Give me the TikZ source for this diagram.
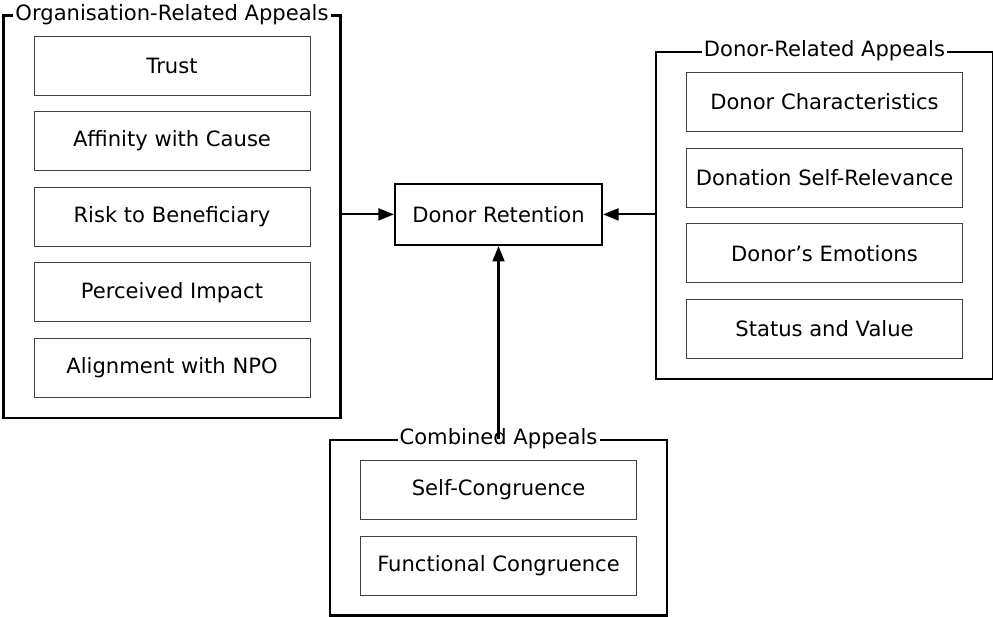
\documentclass[tikz,border=0pt]{standalone}
\usepackage{fontspec}
\setmainfont{DejaVu Sans}
\usetikzlibrary{arrows.meta,positioning,fit}
\tikzset{
  IB/.style={rectangle,draw=black!75,line width=0.7pt,fill=white,
             minimum width=6.9cm,minimum height=1.475cm,
             text centered,font=\fontsize{15}{18}\selectfont},
  MB/.style={IB,draw=black,line width=1.6pt,
             minimum width=5.175cm,minimum height=1.525cm},
  GF/.style={rectangle,draw=black,line width=1.6pt,
             inner xsep=0.75cm,inner ysep=0.5cm},
  GT/.style={fill=white,inner xsep=1.5pt,inner ysep=0pt,
             font=\fontsize{15}{18}\selectfont},
  arr/.style={-{Triangle[length=11pt,width=8.5pt]},line width=1.5pt}
}
\begin{document}
\begin{tikzpicture}[node distance=0.39cm]
  \useasboundingbox (0,0) rectangle (24.825,-15.4);

  % organisation-related appeals
  \node[IB] (trust) at (4.3,-1.6375) {Trust};
  \node[IB,below=of trust] (affinity) {Affinity with Cause};
  \node[IB,below=of affinity] (risk) {Risk to Beneficiary};
  \node[IB,below=of risk] (impact) {Perceived Impact};
  \node[IB,below=of impact] (alignment) {Alignment with NPO};
  \node[GF,fit=(trust)(alignment)] (orgframe) {};
  \node[GT] (orgtitle) at (orgframe.north) {Organisation-Related Appeals};

  % donor-related appeals
  \node[IB] (traits) at (20.6125,-2.55) {Donor Characteristics};
  \node[IB,below=of traits] (relevance) {Donation Self-Relevance};
  \node[IB,below=of relevance] (emotions) {Donor’s Emotions};
  \node[IB,below=of emotions] (status) {Status and Value};
  \node[GF,fit=(traits)(status)] (donorframe) {};
  \node[GT] (donortitle) at (donorframe.north) {Donor-Related Appeals};

  % combined appeals
  \node[IB] (selfcong) at (12.4625,-12.25) {Self-Congruence};
  \node[IB,below=of selfcong] (funccong) {Functional Congruence};
  \node[GF,fit=(selfcong)(funccong)] (combframe) {};
  \node[GT] (combtitle) at (combframe.north) {Combined Appeals};

  \node[MB] (retention) at (12.4625,-5.36) {Donor Retention};

  \draw[arr] (retention.west -| orgframe.east) -- (retention.west);
  \draw[arr] (retention.east -| donorframe.west) -- (retention.east);
  \draw[arr] (combframe) -- (retention);
\end{tikzpicture}
\end{document}
